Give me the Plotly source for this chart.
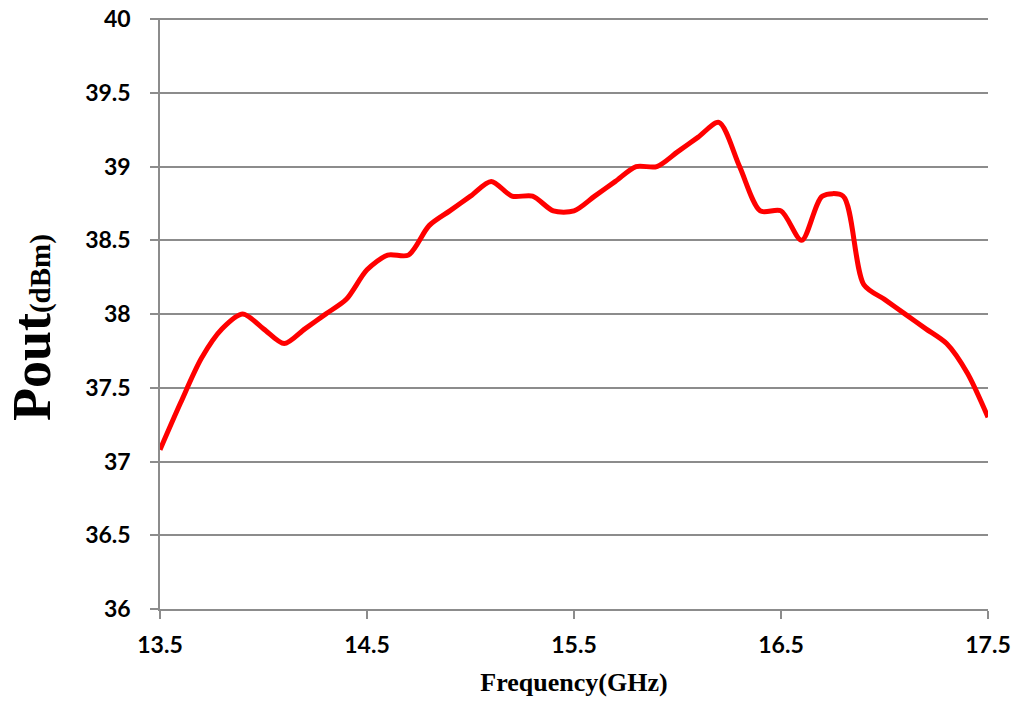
import plotly.graph_objects as go

freq = [13.5, 13.6, 13.7, 13.8, 13.9, 14.0, 14.1, 14.2, 14.3, 14.4, 14.5, 14.6, 14.7, 14.8, 14.9,
        15.0, 15.1, 15.2, 15.3, 15.4, 15.5, 15.6, 15.7, 15.8, 15.9, 16.0, 16.1, 16.2, 16.3, 16.4,
        16.5, 16.6, 16.7, 16.8, 16.9, 17.0, 17.1, 17.2, 17.3, 17.4, 17.5]
pout = [37.08, 37.4, 37.7, 37.9, 38.0, 37.9, 37.8, 37.9, 38.0, 38.1, 38.3, 38.4, 38.4, 38.6, 38.7,
        38.8, 38.9, 38.8, 38.8, 38.7, 38.7, 38.8, 38.9, 39.0, 39.0, 39.1, 39.2, 39.3, 39.0, 38.7,
        38.7, 38.5, 38.8, 38.8, 38.2, 38.1, 38.0, 37.9, 37.8, 37.6, 37.3]
x_ticks = [13.5, 14.5, 15.5, 16.5, 17.5]
y_ticks = [36, 36.5, 37, 37.5, 38, 38.5, 39, 39.5, 40]

fig = go.Figure()
fig.add_trace(go.Scatter(x=freq, y=pout, mode="lines",
                         line=dict(color="#ff0000", width=5, shape="spline", smoothing=0.8),
                         showlegend=False))

tick_font = dict(family="Lato", size=23, color="black", weight="bold")
axis_gray = "#8c8c8c"
fig.update_layout(
    width=1017, height=702,
    margin=dict(l=160, r=29, t=18, b=93, autoexpand=False),
    paper_bgcolor="white", plot_bgcolor="white",
    xaxis=dict(range=[13.5, 17.5], tickvals=x_ticks, ticktext=[f"{v:g}" for v in x_ticks],
               showgrid=False, zeroline=False, showline=True, linecolor=axis_gray, linewidth=1.5,
               ticks="outside", ticklen=8, tickcolor=axis_gray, tickwidth=1.5,
               tickfont=tick_font, automargin=False, ticklabelstandoff=7,
               ticklabeloverflow="allow",
               title=dict(text="<b>Frequency(GHz)</b>",
                          font=dict(family="Liberation Serif", size=26, color="black"),
                          standoff=15)),
    yaxis=dict(range=[36, 40.008], tickvals=y_ticks, ticktext=[f"{v:g}" for v in y_ticks],
               showgrid=True, gridcolor=axis_gray, gridwidth=1.5, zeroline=False,
               showline=True, linecolor=axis_gray, linewidth=1.5,
               ticks="outside", ticklen=8, tickcolor=axis_gray, tickwidth=1.5,
               tickfont=tick_font, automargin=False, ticklabelstandoff=15,
               ticklabeloverflow="allow"),
    annotations=[dict(text="<b>Pout<span style='font-size:29px'>(dBm)</span></b>",
                      xref="paper", yref="paper", x=-0.1546, y=0.477, height=50,
                      xanchor="center", yanchor="middle", textangle=-90, showarrow=False,
                      font=dict(family="Liberation Serif", size=54, color="black"))],
)
fig.write_html("out.html", config={"displayModeBar": False},
               post_script="document.body.style.margin='0';")
